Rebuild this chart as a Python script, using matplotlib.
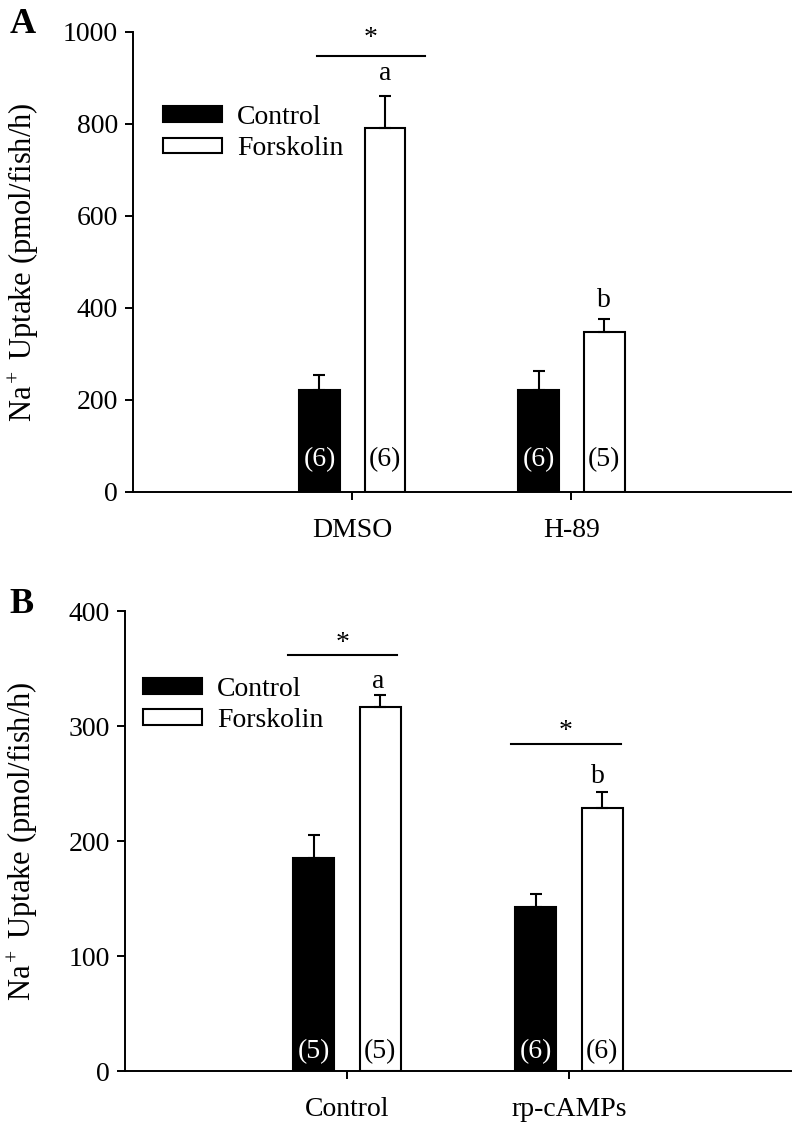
import numpy as np
import matplotlib; matplotlib.use("Agg")
import matplotlib.pyplot as plt
from matplotlib.patches import Patch

plt.rcParams["font.family"] = ["Liberation Serif", "DejaVu Serif"]
plt.rcParams["mathtext.fontset"] = "custom"
plt.rcParams["mathtext.rm"] = "Liberation Serif"
plt.rcParams["mathtext.it"] = "Liberation Serif:italic"

# ---- data ----
groups_a = ["DMSO", "H-89"]
ctrl_a = [221, 221]
ctrl_a_err = [32, 42]
forsk_a = [791, 348]
forsk_a_err = [69, 28]
n_ctrl_a = ["(6)", "(6)"]
n_forsk_a = ["(6)", "(5)"]

groups_b = ["Control", "rp-cAMPs"]
ctrl_b = [185, 143]
ctrl_b_err = [20, 11]
forsk_b = [317, 229]
forsk_b_err = [10, 14]
n_ctrl_b = ["(5)", "(6)"]
n_forsk_b = ["(5)", "(6)"]

FS = 20
W, OFF = 0.185, 0.15


def panel(ax, groups, ctrl, cerr, forsk, ferr, nc, nf, ymax, ystep, ny):
    x = np.arange(1, len(groups) + 1)
    ek = dict(elinewidth=1.5, capsize=4.5, capthick=1.5, ecolor="k")
    ax.bar(x - OFF, ctrl, W, color="k", edgecolor="k", lw=1.5,
           yerr=[np.zeros(len(ctrl)), cerr], error_kw=ek, label="Control", zorder=2)
    ax.bar(x + OFF, forsk, W, color="white", edgecolor="k", lw=1.5,
           yerr=[np.zeros(len(forsk)), ferr], error_kw=ek, label="Forskolin", zorder=2)
    for i in range(len(groups)):
        ax.text(x[i] - OFF, ny, nc[i], color="white", ha="center", va="center", fontsize=FS, zorder=3)
        ax.text(x[i] + OFF, ny, nf[i], color="k", ha="center", va="center", fontsize=FS, zorder=3)
    ax.set_xlim(0, 3)
    ax.set_ylim(0, ymax)
    ax.set_yticks(np.arange(0, ymax + 1, ystep))
    ax.set_xticks(x)
    ax.set_xticklabels(groups)
    for s in ["top", "right"]:
        ax.spines[s].set_visible(False)
    for s in ["left", "bottom"]:
        ax.spines[s].set_linewidth(1.4)
    ax.tick_params(direction="out", length=6, width=1.4, labelsize=FS, pad=5)
    ax.tick_params(axis="x", pad=13)
    ax.set_ylabel("Na$^+$ Uptake (pmol/fish/h)", fontsize=22)
    return x


fig = plt.figure(figsize=(7.93, 11.28), dpi=100)
ax1 = fig.add_axes([0.168, 0.564, 0.829, 0.408])
ax2 = fig.add_axes([0.158, 0.0505, 0.839, 0.4075])

xa = panel(ax1, groups_a, ctrl_a, ctrl_a_err, forsk_a, forsk_a_err,
           n_ctrl_a, n_forsk_a, 1000, 200, 70)
xb = panel(ax2, groups_b, ctrl_b, ctrl_b_err, forsk_b, forsk_b_err,
           n_ctrl_b, n_forsk_b, 400, 100, 17)
ax1.yaxis.set_label_coords(-0.14, 0.5)
ax2.yaxis.set_label_coords(-0.128, 0.5)

# significance marks, panel A
ax1.plot([0.84, 1.33], [947, 947], color="k", lw=1.5, clip_on=False)
ax1.text(1.085, 958, "*", ha="center", va="bottom", fontsize=FS)
ax1.text(1.15, 908, "a", ha="center", va="center", fontsize=FS)
ax1.text(2.15, 415, "b", ha="center", va="center", fontsize=FS)

# significance marks, panel B
ax2.plot([0.734, 1.225], [362, 362], color="k", lw=1.5)
ax2.text(0.98, 361, "*", ha="center", va="bottom", fontsize=FS)
ax2.text(1.14, 339, "a", ha="center", va="center", fontsize=FS)
ax2.plot([1.739, 2.234], [285, 285], color="k", lw=1.5)
ax2.text(1.987, 285, "*", ha="center", va="bottom", fontsize=FS)
ax2.text(2.13, 256, "b", ha="center", va="center", fontsize=FS)

for ax, bx, by in [(ax1, 0.046, 0.84), (ax2, 0.027, 0.858)]:
    h = [Patch(facecolor="k", edgecolor="k", lw=1.5, label="Control"),
         Patch(facecolor="white", edgecolor="k", lw=1.5, label="Forskolin")]
    ax.legend(handles=h, loc="upper left", bbox_to_anchor=(bx, by), frameon=False,
              fontsize=FS, borderpad=0, borderaxespad=0, handlelength=2.1,
              handleheight=0.5, handletextpad=0.55, labelspacing=0.22)

fig.text(0.012, 0.993, "A", fontsize=26, fontweight="bold", va="top")
fig.text(0.012, 0.479, "B", fontsize=26, fontweight="bold", va="top")

fig.savefig("out.png", dpi=100)
